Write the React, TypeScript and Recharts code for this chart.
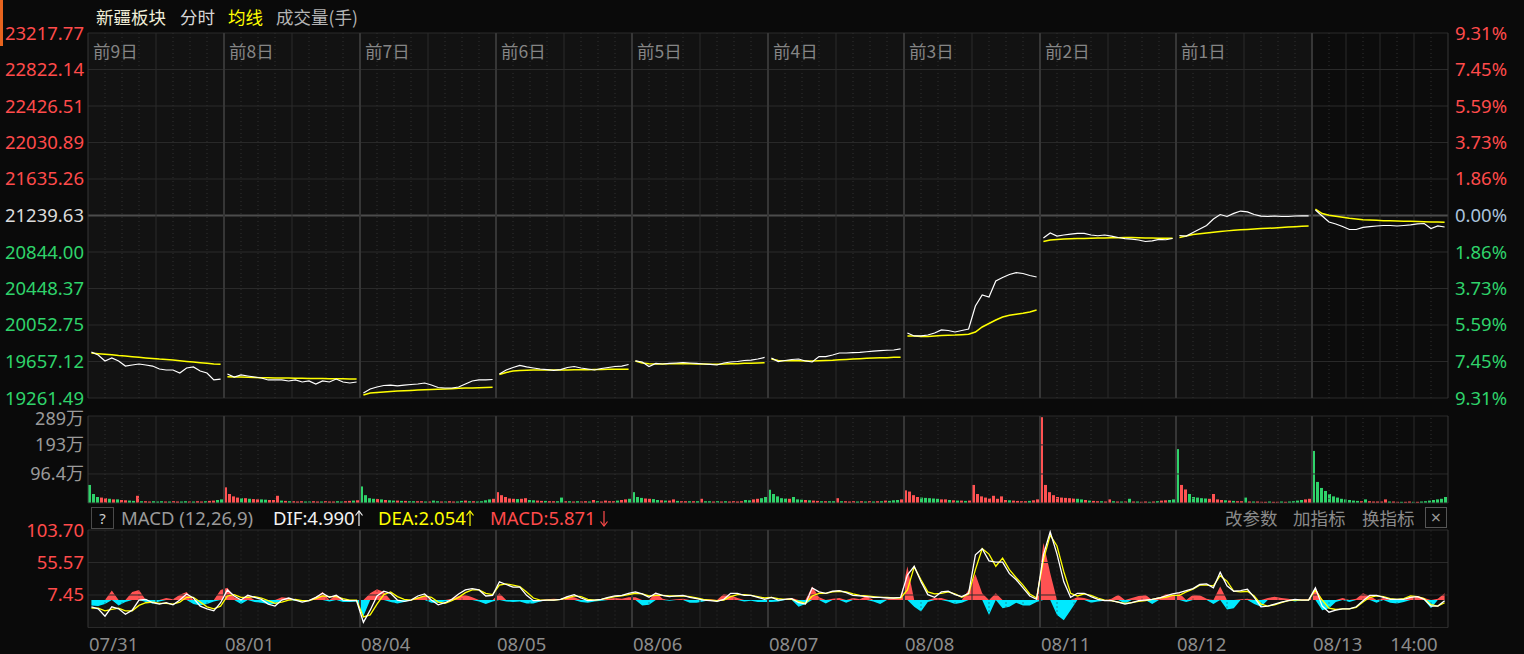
import React from 'react';
import { ComposedChart, Line, Area, Bar, Cell, XAxis, YAxis, ReferenceLine, ReferenceArea } from 'recharts';

const FONT = '"Noto Sans", "Noto Sans CJK SC", sans-serif';
const CJK = '"Noto Sans CJK SC", "Noto Sans", sans-serif';

// ---------- labels ----------
const dates = ['07/31', '08/01', '08/04', '08/05', '08/06', '08/07', '08/08', '08/11', '08/12', '08/13'];
const dayTags = ['前9日', '前8日', '前7日', '前6日', '前5日', '前4日', '前3日', '前2日', '前1日'];
const timeTickLabel = '14:00';
const PRE_CLOSE = 21239.63;
const priceTicks = [19261.49, 19657.12, 20052.75, 20448.37, 20844.0, 21239.63, 21635.26, 22030.89, 22426.51, 22822.14, 23217.77];
const volTicks = [96.4, 193, 289];
const macdTicks = [7.45, 55.57, 103.7];
const macdMin = -40.68;
const headerDif = 'DIF:4.990';
const headerDea = 'DEA:2.054';
const headerMacd = 'MACD:5.871';

// ---------- price (20 samples per day) ----------
const price = [
  19760, 19728, 19663, 19695, 19663, 19608, 19619, 19630, 19619, 19608, 19576, 19565, 19565, 19532, 19587, 19598, 19554, 19532, 19457, 19467,
  19522, 19489, 19511, 19500, 19489, 19478, 19457, 19457, 19457, 19446, 19457, 19435, 19446, 19413, 19446, 19435, 19467, 19435, 19424, 19435,
  19316, 19359, 19381, 19397, 19402, 19392, 19402, 19408, 19413, 19424, 19402, 19375, 19370, 19370, 19381, 19413, 19446, 19457, 19457, 19462,
  19522, 19565, 19592, 19614, 19598, 19587, 19576, 19570, 19560, 19570, 19592, 19603, 19587, 19576, 19565, 19581, 19592, 19603, 19608, 19625,
  19663, 19652, 19603, 19636, 19630, 19636, 19641, 19646, 19641, 19636, 19630, 19625, 19619, 19641, 19652, 19657, 19668, 19673, 19684, 19701,
  19695, 19657, 19668, 19679, 19684, 19663, 19652, 19711, 19711, 19728, 19749, 19749, 19753, 19755, 19763, 19769, 19774, 19779, 19782, 19793,
  19966, 19934, 19934, 19944, 19966, 19999, 19993, 19977, 19993, 20009, 20259, 20378, 20356, 20530, 20568, 20600, 20620, 20611, 20589, 20573,
  20996, 21050, 21017, 21028, 21037, 21045, 21045, 21028, 21020, 21028, 21017, 21001, 20990, 20983, 20974, 20958, 20965, 20980, 20977, 20990,
  21023, 21017, 21055, 21093, 21131, 21202, 21250, 21229, 21263, 21288, 21278, 21250, 21232, 21229, 21234, 21229, 21229, 21234, 21236, 21236,
  21299, 21234, 21169, 21148, 21120, 21088, 21088, 21110, 21120, 21126, 21131, 21131, 21126, 21131, 21137, 21148, 21153, 21099, 21126, 21115,
];
const avgPrice = [
  19749, 19742, 19736, 19729, 19721, 19716, 19709, 19703, 19696, 19690, 19683, 19678, 19673, 19666, 19658, 19651, 19644, 19638, 19631, 19626,
  19492, 19490, 19488, 19486, 19484, 19482, 19480, 19479, 19478, 19477, 19476, 19475, 19474, 19473, 19472, 19471, 19470, 19469, 19468, 19467,
  19294, 19316, 19321, 19327, 19332, 19337, 19341, 19344, 19347, 19350, 19354, 19357, 19359, 19362, 19366, 19369, 19371, 19373, 19375, 19378,
  19516, 19538, 19554, 19560, 19562, 19564, 19565, 19565, 19565, 19565, 19566, 19567, 19568, 19569, 19570, 19570, 19572, 19572, 19573, 19573,
  19663, 19641, 19633, 19630, 19631, 19632, 19633, 19633, 19632, 19631, 19630, 19628, 19627, 19629, 19632, 19634, 19637, 19639, 19641, 19643,
  19684, 19668, 19666, 19665, 19664, 19663, 19663, 19665, 19668, 19671, 19676, 19680, 19684, 19688, 19691, 19694, 19697, 19699, 19702, 19703,
  19934, 19934, 19928, 19927, 19934, 19939, 19942, 19944, 19948, 19952, 19977, 20031, 20069, 20107, 20140, 20158, 20169, 20180, 20194, 20215,
  20958, 20974, 20980, 20985, 20987, 20989, 20991, 20994, 20996, 20997, 20998, 20999, 21000, 21000, 20998, 20996, 20995, 20994, 20994, 20994,
  21001, 21017, 21034, 21042, 21050, 21059, 21066, 21073, 21079, 21085, 21089, 21093, 21098, 21101, 21105, 21110, 21114, 21118, 21123, 21126,
  21310, 21261, 21242, 21231, 21221, 21210, 21202, 21194, 21190, 21187, 21184, 21182, 21180, 21178, 21176, 21174, 21171, 21169, 21168, 21166,
];

// ---------- MACD (20 samples per day) ----------
const dif = [
  -10, -13, -24, -10, -13, -21, -15, 0, 1, -4, -6, -4, -7, 0, 9, 3, -9, -13, -16, -4,
  15, 6, 0, 7, 4, 1, -6, -9, 0, 3, 0, -3, -1, 4, 10, 4, 7, 0, -1, -1,
  -33, -15, 6, 13, 10, 0, -2, 0, 6, 9, 0, -7, -4, 1, 9, 15, 17, 15, 6, 7,
  27, 23, 19, 19, 7, -1, -1, 0, 0, 1, 5, 8, 3, -1, 0, 1, 4, 6, 7, 10,
  12, 9, 4, 10, 7, 5, 6, 7, 4, 2, 0, -1, -2, 1, 10, 10, 7, 7, 4, 1,
  4, 0, 1, 2, -4, -6, 18, 12, 10, 13, 14, 11, 7, 6, 5, 4, 4, 3, 3, 4,
  37, 50, 27, 8, 4, 12, 13, 8, 5, 10, 67, 76, 58, 56, 56, 39, 30, 18, 6, 1,
  67, 101, 68, 27, 4, 10, 10, 5, 1, -1, -1, -3, -6, -4, -1, 0, 1, 3, 6, 9,
  11, 14, 17, 23, 24, 18, 41, 21, 13, 14, 16, 4, -10, -9, -6, -3, -1, 1, 0, 0,
  18, -9, -18, -15, -13, -13, -10, -1, 7, 7, 4, 1, 1, 1, 4, 5, 1, -9, -9, -1,
];
const dea = [
  -12, -12, -16, -14, -12, -16, -16, -8, -4, -3, -5, -5, -6, -3, 4, 4, -3, -10, -13, -9,
  6, 8, 4, 4, 5, 3, -1, -5, -3, 0, 1, -1, -1, 2, 6, 5, 5, 2, 0, 0,
  -25, -22, -6, 8, 12, 5, 1, 0, 3, 6, 4, -3, -5, -1, 4, 11, 15, 15, 10, 8,
  22, 24, 22, 20, 12, 3, 0, 0, 0, 1, 3, 6, 5, 1, 0, 1, 3, 5, 6, 8,
  10, 9, 6, 7, 7, 6, 6, 6, 5, 3, 1, 0, -1, 0, 5, 8, 8, 7, 5, 3,
  4, 2, 1, 1, -2, -5, 6, 10, 10, 12, 13, 12, 9, 7, 6, 5, 4, 4, 3, 3,
  15, 49, 30, 12, 9, 10, 12, 9, 4, 9, 45, 76, 68, 50, 62, 45, 33, 22, 9, 3,
  59, 96, 80, 42, 10, 6, 9, 7, 3, 0, -1, -3, -5, -4, -2, -1, 1, 3, 4, 7,
  7, 12, 16, 22, 22, 21, 36, 28, 13, 12, 13, 6, -6, -9, -7, -4, -1, 0, 0, 0,
  15, 0, -12, -14, -13, -13, -11, -3, 4, 6, 5, 2, 1, 2, 6, 5, 2, -7, -9, -4,
];
const macdHist = [
  -8, -9, -6, 14, -8, -3, 12, 15, -3, -5, -2, 3, 1, 8, 12, -6, -8, -6, -2, 15,
  18, 4, -6, 6, -3, -4, -6, -6, 4, 3, -1, -2, 0, 4, 12, -2, 8, -3, -3, -2,
  -24, 10, 16, 12, -3, -5, -3, 0, 4, 6, -4, -4, -2, 2, 6, 8, 4, -2, -6, -2,
  10, -2, -3, -2, -5, -5, -2, 1, 2, 1, 6, 4, -3, -4, -2, -1, 2, 3, 2, 4,
  4, -8, -7, 11, 2, -1, 1, 2, -4, -4, -2, 1, -2, 9, 7, 3, -2, -1, -3, -3,
  -3, -2, 2, 3, -10, -6, 20, 4, -5, 2, 3, -4, 3, 1, 6, -2, -6, 1, 2, 2,
  50, -10, -17, -3, 3, 3, -2, -6, -4, 15, 38, 10, -22, 10, -12, -10, -4, -8, -8, -3,
  85, 40, -22, -30, -15, 4, 3, -4, -2, -1, 2, 8, -5, 3, 6, 8, -6, 3, 9, 8,
  10, -3, 8, 7, 2, -6, 20, -14, -12, 1, 2, -6, -10, 3, 5, 3, 2, -2, 1, 1,
  18, -15, -12, -3, 3, -3, 2, 10, 6, -4, 3, -4, -5, -3, 5, 6, 3, -12, 2, 10,
];

// ---------- volume (34 bars per day, unit 万) ----------
const volume = [
  60, 30, 20, 18, 16, 14, 12, 12, 10, 9, 8, 7, 24, 6, 6, 5, 6, 5, 6, 5, 5, 6, 5, 5, 6, 5, 5, 6, 5, 6, 7, 8, 10, 12,
  52, 30, 22, 18, 16, 16, 14, 13, 12, 12, 11, 10, 10, 24, 8, 7, 6, 6, 5, 6, 5, 5, 6, 5, 5, 6, 5, 5, 6, 5, 6, 7, 8, 9,
  55, 26, 16, 14, 13, 12, 10, 9, 8, 8, 7, 7, 6, 6, 6, 6, 5, 5, 8, 6, 5, 5, 6, 5, 5, 7, 8, 6, 6, 5, 6, 9, 12, 14,
  36, 26, 20, 15, 14, 13, 14, 16, 10, 9, 8, 7, 7, 6, 6, 6, 18, 6, 6, 5, 6, 5, 6, 5, 10, 6, 5, 8, 6, 6, 8, 10, 12, 14,
  36, 20, 17, 15, 14, 13, 10, 9, 8, 8, 12, 7, 6, 6, 6, 6, 6, 14, 6, 6, 5, 6, 5, 6, 5, 6, 5, 6, 10, 9, 12, 14, 16, 20,
  44, 30, 22, 16, 15, 14, 20, 12, 11, 10, 9, 8, 7, 6, 6, 6, 6, 16, 6, 6, 5, 6, 5, 6, 5, 6, 5, 6, 6, 8, 7, 9, 10, 12,
  42, 38, 26, 20, 18, 17, 16, 15, 14, 12, 12, 10, 9, 8, 8, 7, 8, 60, 30, 22, 18, 15, 24, 14, 22, 10, 9, 8, 7, 6, 6, 7, 9, 12,
  285, 60, 36, 26, 20, 18, 17, 16, 15, 14, 12, 10, 8, 7, 6, 6, 5, 12, 6, 5, 5, 5, 14, 5, 5, 4, 5, 4, 5, 6, 8, 9, 10, 12,
  179, 60, 45, 30, 20, 18, 16, 15, 14, 30, 12, 10, 9, 8, 7, 6, 6, 18, 5, 5, 5, 4, 4, 5, 4, 4, 5, 4, 5, 6, 8, 10, 12, 14,
  173, 70, 50, 40, 30, 22, 18, 14, 12, 10, 8, 7, 6, 12, 6, 5, 5, 5, 12, 5, 5, 4, 4, 4, 5, 4, 4, 5, 6, 8, 10, 12, 14, 20,
];
const volDirection = [
  'gggrrgrgrrggrgrrgggrgrrggrgrrgrrgg',
  'rrrrgrgrrggrrrgrgrrrggrrgrrrggrrgr',
  'ggggrgrggrgrggrrgrggrgrrggrgrggggr',
  'rrrrrgrrggrrgrrggrgrgrrgrgrrrrgrrg',
  'gggrrggrgrrgrrgrgrggrgrgrrrrggrrgg',
  'gggggrgggrgrrgrggrgrrrgrgrgrgrgggr',
  'rrrrgggggrrgrgrgrrrrrrrrrrgrrrrgrr',
  'rrrrrrrrrggrgrrgrrgrgrgrgrrgrgrrgg',
  'grrgggggrrrrgrgrrgrgrrrgrrgrggggr',
  'ggggggggggggrgrrrrrgrrgrrgrggggggg',
];

const PER_DAY = 20;
const VOL_PER_DAY = 34;
const DAYS = 10;
const X_MAX = DAYS * PER_DAY;

const RED = '#ff5252';
const GREEN = '#2fd36a';
const CYAN = '#00e9ff';

// ---------- tables ----------
const priceRows: any[] = [];
for (let d = 0; d < DAYS; d++) {
  if (d > 0) priceRows.push({ x: d * PER_DAY, price: null, avg: null });
  for (let j = 0; j < PER_DAY; j++) {
    const i = d * PER_DAY + j;
    priceRows.push({ x: i + 0.5, price: price[i], avg: avgPrice[i] });
  }
}
const macdRows = dif.map((v, i) => ({
  x: i + 0.5,
  dif: v,
  dea: dea[i],
  pos: Math.max(macdHist[i], 0),
  neg: Math.min(macdHist[i], 0),
}));
const volRows = volume.map((v, i) => {
  const d = Math.floor(i / VOL_PER_DAY);
  const k = i % VOL_PER_DAY;
  return { x: d * PER_DAY + ((k + 0.5) * PER_DAY) / VOL_PER_DAY, v, up: (volDirection[d][k] || 'r') === 'r' };
});

// ---------- grid ----------
const GRID = '#2a2a2a';
const DAY_LINE = '#363636';
function verticalGrid(prefix: string, yAxisId?: any) {
  const out: any[] = [];
  const extra = yAxisId !== undefined ? { yAxisId } : {};
  for (let d = 0; d < DAYS; d++) {
    const base = d * PER_DAY;
    const solid = d === DAYS - 1 ? [5, 10, 15] : [10];
    const dotted = d === DAYS - 1 ? [2.5, 7.5, 12.5, 17.5] : [2.5, 5, 7.5, 12.5, 15, 17.5];
    solid.forEach((o) => out.push(<ReferenceLine key={`${prefix}s${d}-${o}`} x={base + o} stroke={GRID} strokeWidth={1} {...extra} />));
    dotted.forEach((o) => out.push(<ReferenceLine key={`${prefix}d${d}-${o}`} x={base + o} stroke="#303030" strokeDasharray="1 3" strokeWidth={1} {...extra} />));
  }
  for (let d = 0; d <= DAYS; d++) {
    out.push(<ReferenceLine key={`${prefix}day${d}`} x={d * PER_DAY} stroke={DAY_LINE} strokeWidth={d === 0 || d === DAYS ? 1 : 2} {...extra} />);
  }
  return out;
}

const priceColor = (v: number) => (Math.abs(v - PRE_CLOSE) < 0.005 ? '#dcdcdc' : v > PRE_CLOSE ? '#ff4b4b' : GREEN);
const pctColor = (v: number) => (Math.abs(v - PRE_CLOSE) < 0.005 ? '#aac3dc' : v > PRE_CLOSE ? '#ff4b4b' : GREEN);

const LeftPriceTick = (p: any) => (
  <text x={84} y={p.y} dy={6.5} textAnchor="end" fill={priceColor(p.payload.value)} fontSize={18.5} fontFamily={FONT}>
    {p.payload.value.toFixed(2)}
  </text>
);
const RightPctTick = (p: any) => (
  <text x={1455} y={p.y} dy={6.5} textAnchor="start" fill={pctColor(p.payload.value)} fontSize={18.5} fontFamily={FONT}>
    {((Math.abs(p.payload.value - PRE_CLOSE) / PRE_CLOSE) * 100).toFixed(2)}%
  </text>
);
const VolTick = (p: any) => (
  <text x={84} y={p.y} dy={p.payload.value === volTicks[volTicks.length - 1] ? 9 : 6.5} textAnchor="end" fill="#9a9a9a" fontSize={18} fontFamily={FONT}>
    {p.payload.value}万
  </text>
);
const MacdTick = (p: any) => (
  <text x={84} y={p.y} dy={6.5} textAnchor="end" fill="#ff4b4b" fontSize={18.5} fontFamily={FONT}>
    {p.payload.value.toFixed(2)}
  </text>
);
const DateTick = (p: any) => {
  const v = p.payload.value;
  const isTime = v % PER_DAY !== 0;
  const label = isTime ? timeTickLabel : dates[v / PER_DAY];
  return (
    <text x={isTime ? p.x : p.x + 1} y={p.y + 15} textAnchor={isTime ? 'middle' : 'start'} fill="#8c8c8c" fontSize={18.5} fontFamily={FONT}>
      {label}
    </text>
  );
};

const dateTicks = [...dates.map((_, i) => i * PER_DAY), (DAYS - 1) * PER_DAY + 15];

const txt = (left: number, top: number, color: string, text: string, size = 17.5, family = CJK) => (
  <div style={{ position: 'absolute', left, top, color, fontSize: size, fontFamily: family, lineHeight: '22px', whiteSpace: 'nowrap' }}>{text}</div>
);

const Arrow = ({ left, color, down }: { left: number; color: string; down?: boolean }) => (
  <svg style={{ position: 'absolute', left, top: 509 }} width={8} height={19}>
    <line x1={4} y1={2} x2={4} y2={17} stroke={color} strokeWidth={1.2} />
    {down ? (
      <polyline points="0.5,12.5 4,17 7.5,12.5" fill="none" stroke={color} strokeWidth={1.2} />
    ) : (
      <polyline points="0.5,6.5 4,2 7.5,6.5" fill="none" stroke={color} strokeWidth={1.2} />
    )}
  </svg>
);

export default function App() {
  return (
    <div style={{ position: 'absolute', left: 0, top: 0, width: 1524, height: 654, background: '#0a0a0a', overflow: 'hidden', fontFamily: FONT }}>
      <div style={{ position: 'absolute', left: 0, top: 0, width: 3, height: 46, background: '#e8641e' }} />
      {txt(96, 6, '#f0eed8', '新疆板块')}
      {txt(180, 6, '#d6d6d6', '分时')}
      {txt(228, 6, '#ffff00', '均线')}
      {txt(276, 6, '#b4b4b4', '成交量(手)')}

      {/* price panel */}
      <div style={{ position: 'absolute', left: 0, top: 0 }}>
        <ComposedChart width={1524} height={412} data={priceRows} margin={{ top: 33, right: 0, left: 0, bottom: 14 }}>
          <XAxis type="number" dataKey="x" domain={[0, X_MAX]} hide allowDataOverflow />
          <YAxis yAxisId="l" type="number" domain={[priceTicks[0], priceTicks[priceTicks.length - 1]]} ticks={priceTicks} interval={0} width={88} axisLine={false} tickLine={false} tick={LeftPriceTick} allowDataOverflow />
          <YAxis yAxisId="r" orientation="right" type="number" domain={[priceTicks[0], priceTicks[priceTicks.length - 1]]} ticks={priceTicks} interval={0} width={76} axisLine={false} tickLine={false} tick={RightPctTick} allowDataOverflow />
          <ReferenceArea yAxisId="l" x1={0} x2={(DAYS - 1) * PER_DAY} fill="#121212" fillOpacity={1} stroke="none" />
          <ReferenceArea yAxisId="l" x1={(DAYS - 1) * PER_DAY} x2={X_MAX} fill="#0c0c0c" fillOpacity={1} stroke="none" />
          {priceTicks.map((t) => (
            <ReferenceLine key={`h${t}`} yAxisId="l" y={t} stroke={t === PRE_CLOSE ? '#4c4c4c' : GRID} strokeWidth={t === PRE_CLOSE ? 2 : 1} />
          ))}
          {verticalGrid('p', 'l')}
          <Line yAxisId="l" type="linear" dataKey="avg" stroke="#ffff00" strokeWidth={1.5} dot={false} isAnimationActive={false} connectNulls={false} />
          <Line yAxisId="l" type="linear" dataKey="price" stroke="#ffffff" strokeWidth={1.2} dot={false} isAnimationActive={false} connectNulls={false} />
        </ComposedChart>
      </div>
      {dayTags.map((t, d) => (
        <div key={t}>{txt(93 + d * 136, 40, '#858585', t)}</div>
      ))}

      {/* volume panel */}
      <div style={{ position: 'absolute', left: 0, top: 400 }}>
        <ComposedChart width={1524} height={105} data={volRows} margin={{ top: 16, right: 76, left: 0, bottom: 2 }}>
          <XAxis type="number" dataKey="x" domain={[0, X_MAX]} hide allowDataOverflow />
          <YAxis type="number" domain={[0, 289]} ticks={volTicks} interval={0} width={88} axisLine={false} tickLine={false} tick={VolTick} allowDataOverflow />
          <ReferenceArea x1={0} x2={(DAYS - 1) * PER_DAY} fill="#121212" fillOpacity={1} stroke="none" />
          <ReferenceArea x1={(DAYS - 1) * PER_DAY} x2={X_MAX} fill="#0c0c0c" fillOpacity={1} stroke="none" />
          {[0, ...volTicks].map((t) => (
            <ReferenceLine key={`vh${t}`} y={t} stroke={GRID} />
          ))}
          {verticalGrid('v')}
          <Bar dataKey="v" barSize={3} isAnimationActive={false}>
            {volRows.map((r, i) => (
              <Cell key={i} fill={r.up ? RED : GREEN} />
            ))}
          </Bar>
        </ComposedChart>
      </div>

      {/* MACD header */}
      <div style={{ position: 'absolute', left: 91, top: 507, width: 21, height: 20, border: '1px solid #4a4a4a', color: '#cfcfcf', fontSize: 15, textAlign: 'center', lineHeight: '20px', fontFamily: FONT }}>?</div>
      {txt(121, 507, '#9a9a9a', 'MACD (12,26,9)', 18.5, FONT)}
      {txt(273, 507, '#f2f2f2', headerDif, 18.5, FONT)}
      <Arrow left={355} color="#f2f2f2" />
      {txt(378, 507, '#ffff00', headerDea, 18.5, FONT)}
      <Arrow left={466} color="#ffff00" />
      {txt(490, 507, '#ff4b4b', headerMacd, 18.5, FONT)}
      <Arrow left={600} color="#ff4b4b" down />
      {txt(1225, 507, '#8a8a8a', '改参数')}
      {txt(1293, 507, '#8a8a8a', '加指标')}
      {txt(1362, 507, '#8a8a8a', '换指标')}
      <div style={{ position: 'absolute', left: 1425, top: 507, width: 20, height: 19, border: '1px solid #555', color: '#9a9a9a', fontSize: 18, textAlign: 'center', lineHeight: '18px' }}>×</div>

      {/* MACD panel */}
      <div style={{ position: 'absolute', left: 0, top: 518 }}>
        <ComposedChart width={1524} height={136} data={macdRows} margin={{ top: 12, right: 76, left: 0, bottom: 0 }}>
          <XAxis type="number" dataKey="x" domain={[0, X_MAX]} ticks={dateTicks} interval={0} height={26.5} axisLine={false} tickLine={false} tick={DateTick} allowDataOverflow />
          <YAxis type="number" domain={[macdMin, macdTicks[macdTicks.length - 1]]} ticks={macdTicks} interval={0} width={88} axisLine={false} tickLine={false} tick={MacdTick} allowDataOverflow />
          <ReferenceArea x1={0} x2={(DAYS - 1) * PER_DAY} fill="#121212" fillOpacity={1} stroke="none" />
          <ReferenceArea x1={(DAYS - 1) * PER_DAY} x2={X_MAX} fill="#0c0c0c" fillOpacity={1} stroke="none" />
          {[macdMin, ...macdTicks].map((t) => (
            <ReferenceLine key={`mh${t}`} y={t} stroke={GRID} />
          ))}
          {verticalGrid('m')}
          <Area type="linear" dataKey="pos" baseValue={0} stroke="none" fill={RED} fillOpacity={1} isAnimationActive={false} />
          <Area type="linear" dataKey="neg" baseValue={0} stroke="none" fill={CYAN} fillOpacity={1} isAnimationActive={false} />
          <Line type="linear" dataKey="dea" stroke="#ffff00" strokeWidth={1.3} dot={false} isAnimationActive={false} />
          <Line type="linear" dataKey="dif" stroke="#ffffff" strokeWidth={1.3} dot={false} isAnimationActive={false} />
        </ComposedChart>
      </div>
    </div>
  );
}
